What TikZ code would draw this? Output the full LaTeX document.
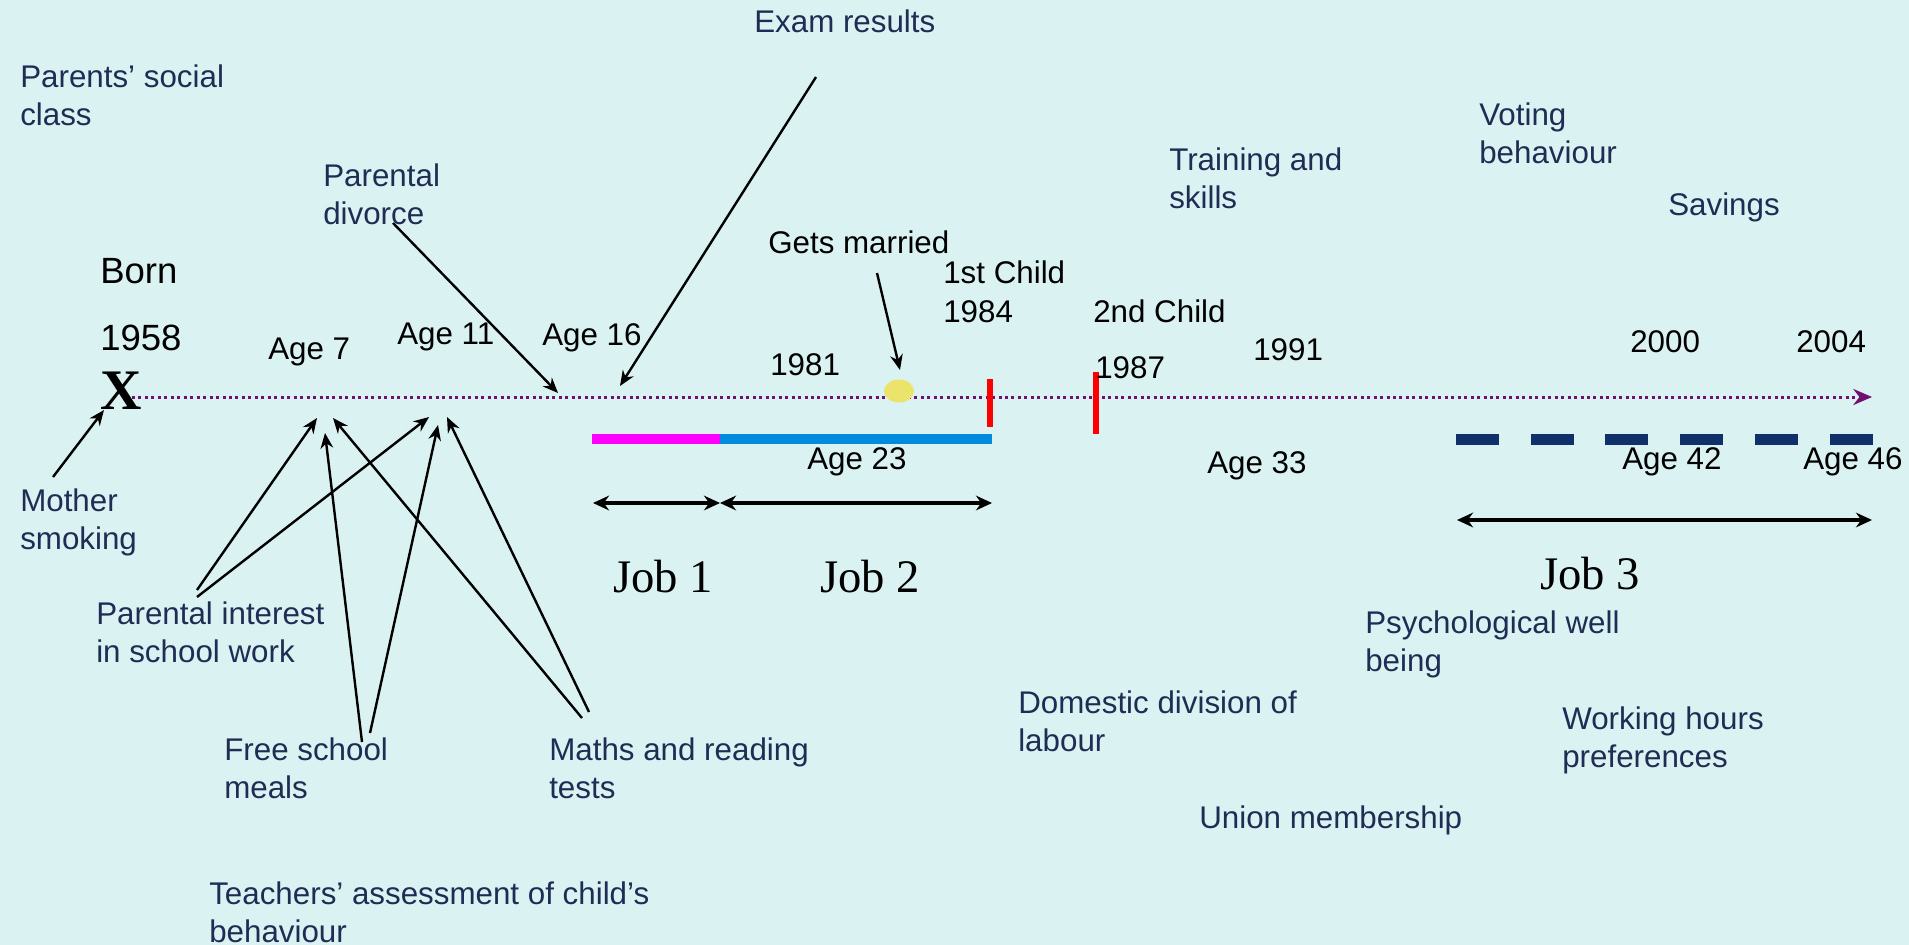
\documentclass[tikz,border=0pt]{standalone}
\usepackage{fontspec}
\setmainfont{Liberation Sans}
\newfontfamily\serifjob{Liberation Serif}
\usetikzlibrary{arrows.meta}

\definecolor{slidebg}{RGB}{218,243,242}
\definecolor{labelnavy}{RGB}{31,45,84}
\definecolor{lifeline}{RGB}{112,16,112}
\definecolor{jobmagenta}{RGB}{255,0,255}
\definecolor{jobblue}{RGB}{0,139,223}
\definecolor{jobnavy}{RGB}{16,48,106}
\definecolor{weddingyellow}{RGB}{236,228,106}

\tikzset{
  factor/.style={anchor=north west,inner sep=0pt,align=left,text=labelnavy,font=\fontsize{23.5}{28.5}\selectfont},
  event/.style={anchor=north west,inner sep=0pt,text=black,font=\fontsize{23.5}{28.5}\selectfont},
  bigevent/.style={event,font=\fontsize{27.4}{33}\selectfont},
  joblabel/.style={anchor=north west,inner sep=0pt,font=\serifjob\fontsize{35}{42}\selectfont},
  pointer/.style={line width=1.8pt,-{Stealth[length=11.5pt,width=9.5pt]}},
  jobspan/.style={line width=3pt,{Stealth[length=12pt,width=11pt]}-{Stealth[length=12pt,width=11pt]}},
}

\begin{document}
\begin{tikzpicture}[x=0.75pt,y=0.75pt,yscale=-1,xscale=1]
%background, set diagram to 1909 x 945
\useasboundingbox[fill=slidebg] (0,0) rectangle (1909,945);

% Birth mark
\node (xmark) at (121,391) [inner sep=0pt,font=\serifjob\bfseries\fontsize{43}{43}\selectfont] {X};

%Time line
\coordinate (tl0) at (132,397);
\coordinate (tl1) at (1872,397);
\draw [lifeline,line width=2.25pt,dash pattern=on 2.25pt off 2.6pt,-{Stealth[length=14pt,width=12pt]}] (tl0) -- (tl1);

%Job bars
\fill [jobmagenta] (592,434) rectangle (720,444);
\fill [jobblue] (720,434) rectangle (992,444);
\foreach \i in {0,...,5}
  \fill [jobnavy] (1456+74.7*\i,434) rectangle ++(43,11);

%Children
\draw [red,line width=3.8pt] (990,379) -- (990,427);
\draw [red,line width=3.8pt] (1096,372) -- (1096,434);

%Marriage
\fill [weddingyellow] (899,391) ellipse [x radius=15,y radius=11.5];

% Text Node
\node (born) at (100,258) [bigevent] {Born};
% Text Node
\node (yr1958) at (100,325) [bigevent] {1958};
% Text Node
\node (age7) at (268,338) [event] {Age 7};
% Text Node
\node (age11) at (397,323) [event] {Age 11};
% Text Node
\node (age16) at (542,323) [event] {Age 16};
% Text Node
\node (married) at (768,231) [event] {Gets married};
% Text Node
\node (child1) at (943,261) [event] {1st Child};
% Text Node
\node (yr1984) at (943,300) [event] {1984};
% Text Node
\node (child2) at (1093,300) [event] {2nd Child};
% Text Node
\node (yr1987) at (1095,356) [event] {1987};
% Text Node
\node (yr1981) at (770,353) [event] {1981};
% Text Node
\node (yr1991) at (1253,338) [event] {1991};
% Text Node
\node (yr2000) at (1630,330) [event] {2000};
% Text Node
\node (yr2004) at (1796,330) [event] {2004};
% Text Node
\node (age23) at (807,447) [event] {Age 23};
% Text Node
\node (age33) at (1207,451) [event] {Age 33};
% Text Node
\node (age42) at (1622,447) [event] {Age 42};
% Text Node
\node (age46) at (1803,447) [event] {Age 46};

% Text Node
\node (job1) at (613,560) [joblabel] {Job 1};
% Text Node
\node (job2) at (820,560) [joblabel] {Job 2};
% Text Node
\node (job3) at (1540,557) [joblabel] {Job 3};

% Text Node
\node (social) at (20,65) [factor] {Parents’ social\\class};
% Text Node
\node (exam) at (754,10) [factor] {Exam results};
% Text Node
\node (divorce) at (323,164) [factor] {Parental\\divorce};
% Text Node
\node (training) at (1169,148) [factor] {Training and\\skills};
% Text Node
\node (voting) at (1479,103) [factor] {Voting\\behaviour};
% Text Node
\node (savings) at (1668,193) [factor] {Savings};
% Text Node
\node (smoking) at (20,489) [factor] {Mother\\smoking};
% Text Node
\node (interest) at (96,602) [factor] {Parental interest\\in school work};
% Text Node
\node (meals) at (224,738) [factor] {Free school\\meals};
% Text Node
\node (tests) at (549,738) [factor] {Maths and reading\\tests};
% Text Node
\node (teachers) at (209,882) [factor] {Teachers’ assessment of child’s\\behaviour};
% Text Node
\node (domestic) at (1018,691) [factor] {Domestic division of\\labour};
% Text Node
\node (union) at (1199,806) [factor] {Union membership};
% Text Node
\node (wellbeing) at (1365,611) [factor] {Psychological well\\being};
% Text Node
\node (hours) at (1562,707) [factor] {Working hours\\preferences};

%Arrow ends
\coordinate (examfrom) at (816,77);
\coordinate (examto) at (620,386);
\coordinate (divorcefrom) at (393,223);
\coordinate (divorceto) at (558,393);
\coordinate (marriedfrom) at (877,273);
\coordinate (marriedto) at (900,370);
\coordinate (smokingfrom) at (53,477);
\coordinate (smokingto) at (104,410);
\coordinate (interestfrom) at (197,590);
\coordinate (interestfromb) at (197,597);
\coordinate (mealsfrom) at (362,742);
\coordinate (mealsfromb) at (370,733);
\coordinate (testsfrom) at (582,718);
\coordinate (testsfromb) at (589,712);
\coordinate (sevena) at (317,418);
\coordinate (sevenb) at (325,433);
\coordinate (sevenc) at (333,418);
\coordinate (elevena) at (429,417);
\coordinate (elevenb) at (438,425);
\coordinate (elevenc) at (447,417);

%Straight Lines
\draw [pointer] (examfrom) -- (examto);
\draw [pointer] (divorcefrom) -- (divorceto);
\draw [pointer] (marriedfrom) -- (marriedto);
\draw [pointer] (smokingfrom) -- (smokingto);
\draw [pointer] (interestfrom) -- (sevena);
\draw [pointer] (interestfromb) -- (elevena);
\draw [pointer] (mealsfrom) -- (sevenb);
\draw [pointer] (mealsfromb) -- (elevenb);
\draw [pointer] (testsfrom) -- (sevenc);
\draw [pointer] (testsfromb) -- (elevenc);

%Job spans
\coordinate (job1a) at (593,503);
\coordinate (job1b) at (720,503);
\coordinate (job2b) at (992,503);
\coordinate (job3a) at (1457,520);
\coordinate (job3b) at (1872,520);
\draw [jobspan] (job1a) -- (job1b);
\draw [jobspan] (job1b) -- (job2b);
\draw [jobspan] (job3a) -- (job3b);

\end{tikzpicture}
\end{document}
